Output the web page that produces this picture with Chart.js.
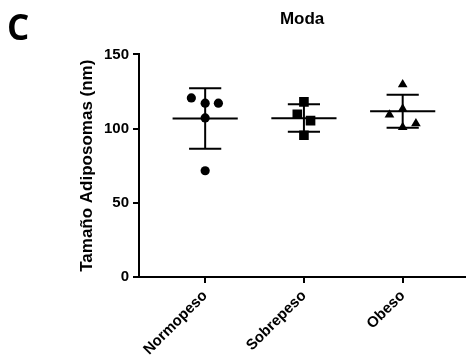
<!DOCTYPE html>
<html>
<head>
<meta charset="utf-8">
<script src="https://cdn.jsdelivr.net/npm/chart.js@4"></script>
<style>
    html, body { margin: 0; background: #fff; overflow: hidden; }
    /* el eje X llega hasta el borde derecho de la figura */
    #wrap { position: relative; width: 472px; height: 364px; }
</style>
</head>
<body>
<div id="wrap"><canvas id="chart"></canvas></div>
<script>
// Datos (Moda)
const categories = ['Normopeso', 'Sobrepeso', 'Obeso'];

const normopeso = [120.7, 117.1, 117.1, 107.2, 71.6];
const normopesoJitter = [-0.14, 0, 0.134, 0, 0];

const sobrepeso = [118, 109.7, 105.4, 95.5];
const sobrepesoJitter = [0, -0.067, 0.067, 0];

const obeso = [129.7, 109.3, 113.3, 100.9, 103.4];
const obesoJitter = [0, -0.134, 0, 0, 0.134];

const means = [106.8, 107, 111.7];
const sdUpper = [127.2, 116.4, 122.8];
const sdLower = [86.5, 97.8, 100.5];

const yTicks = [0, 50, 100, 150];

const FONT = "'Liberation Sans', Arial, sans-serif";
const meanHalf = 0.33;
const capHalf = 0.163;

const toPoints = (values, jitter, idx) =>
    values.map((v, i) => ({ x: idx + jitter[i], y: v }));

// segmentos horizontales/verticales separados por huecos (null)
const segments = (list) => {
    const out = [];
    list.forEach(([x1, y1, x2, y2]) => {
        out.push({ x: x1, y: y1 }, { x: x2, y: y2 }, { x: x2, y: null });
    });
    return out;
};

const meanLines = segments(means.map((m, i) => [i - meanHalf, m, i + meanHalf, m]));
const errorLines = segments(categories.map((c, i) => [i, sdLower[i], i, sdUpper[i]]));
const capLines = segments([
    ...sdUpper.map((v, i) => [i - capHalf, v, i + capHalf, v]),
    ...sdLower.map((v, i) => [i - capHalf, v, i + capHalf, v]),
]);

const lineSet = (data) => ({
    type: 'line',
    data,
    borderColor: '#000',
    borderWidth: 2,
    pointRadius: 0,
    spanGaps: false,
    fill: false,
});

const pointSet = (data, style, radius) => ({
    type: 'scatter',
    data,
    pointStyle: style,
    pointRadius: radius,
    backgroundColor: '#000',
    borderColor: '#000',
    borderWidth: 0,
});

const panelLetter = {
    id: 'panelLetter',
    afterDraw(chart) {
        const ctx = chart.ctx;
        ctx.save();
        ctx.fillStyle = '#000';
        ctx.font = "bold 35px 'Open Sans', sans-serif";
        ctx.textBaseline = 'alphabetic';
        ctx.fillText('C', 7, 40);
        ctx.restore();
    },
};

new Chart(document.getElementById('chart'), {
    type: 'scatter',
    data: {
        datasets: [
            pointSet(toPoints(normopeso, normopesoJitter, 0), 'circle', 4.6),
            pointSet(toPoints(sobrepeso, sobrepesoJitter, 1), 'rect', 6.8),
            pointSet(toPoints(obeso, obesoJitter, 2), 'triangle', 5.6),
            lineSet(meanLines),
            lineSet(errorLines),
            lineSet(capLines),
        ],
    },
    options: {
        responsive: true,
        maintainAspectRatio: false,
        animation: false,
        layout: { padding: 0 },
        plugins: {
            legend: { display: false },
            tooltip: { enabled: false },
            title: {
                display: true,
                text: 'Moda',
                fullSize: false,
                color: '#000',
                font: { family: FONT, size: 17, weight: 'bold' },
                padding: { top: 9, bottom: 25 },
            },
        },
        scales: {
            x: {
                type: 'linear',
                min: -0.67,
                max: 2.633,
                afterBuildTicks: (scale) => {
                    scale.ticks = categories.map((c, i) => ({ value: i }));
                },
                afterFit: (scale) => {
                    scale.height = 87;
                    scale.paddingRight = 0;
                    scale.paddingLeft = 0;
                },
                grid: { drawOnChartArea: false, drawTicks: true, tickLength: 6, color: '#000', lineWidth: 2 },
                border: { color: '#000', width: 2 },
                ticks: {
                    autoSkip: false,
                    maxRotation: 45,
                    minRotation: 45,
                    padding: 4,
                    color: '#000',
                    font: { family: FONT, size: 15, weight: 'bold' },
                    callback: (v) => categories[v] ?? '',
                },
            },
            y: {
                min: 0,
                max: 150,
                afterBuildTicks: (scale) => {
                    scale.ticks = yTicks.map((v) => ({ value: v }));
                },
                afterFit: (scale) => { scale.width = 139; },
                grid: { drawOnChartArea: false, drawTicks: true, tickLength: 6, color: '#000', lineWidth: 2 },
                border: { color: '#000', width: 2 },
                ticks: {
                    padding: 4,
                    color: '#000',
                    font: { family: FONT, size: 15, weight: 'bold' },
                },
                title: {
                    display: true,
                    text: 'Tamaño Adiposomas (nm)',
                    color: '#000',
                    font: { family: FONT, size: 17, weight: 'bold' },
                    padding: { top: 77, bottom: 0 },
                },
            },
        },
    },
    plugins: [panelLetter],
});
</script>
</body>
</html>
